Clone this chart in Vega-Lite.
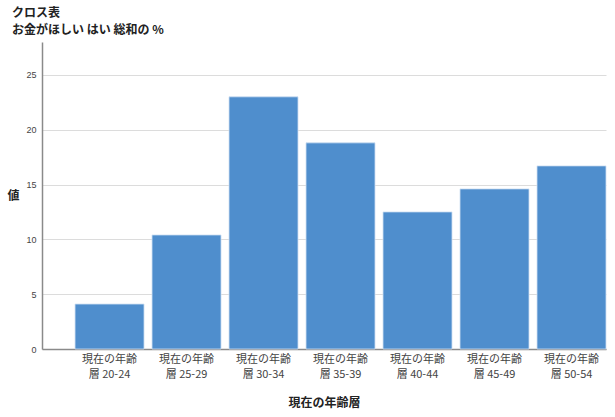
{
  "$schema": "https://vega.github.io/schema/vega-lite/v6.json",
  "autosize": {"type": "none"},
  "padding": {"left": 42, "top": 42, "right": 9, "bottom": 68},
  "width": 564,
  "height": 307,
  "background": "white",
  "title": {
    "text": "クロス表",
    "subtitle": "お金がほしい はい 総和の %",
    "anchor": "start",
    "frame": "group",
    "dx": -30,
    "offset": 5,
    "font": "Noto Sans CJK JP",
    "fontSize": 12,
    "fontWeight": "bold",
    "color": "#222222",
    "subtitleFont": "Noto Sans CJK JP",
    "subtitleFontSize": 12,
    "subtitleFontWeight": "bold",
    "subtitleColor": "#222222",
    "subtitlePadding": 5
  },
  "data": {
    "values": [
      {"age": "現在の年齢層 20-24", "value": 4.1},
      {"age": "現在の年齢層 25-29", "value": 10.4},
      {"age": "現在の年齢層 30-34", "value": 23.0},
      {"age": "現在の年齢層 35-39", "value": 18.8},
      {"age": "現在の年齢層 40-44", "value": 12.5},
      {"age": "現在の年齢層 45-49", "value": 14.6},
      {"age": "現在の年齢層 50-54", "value": 16.7}
    ]
  },
  "mark": {"type": "bar", "color": "#4f8ecd", "stroke": "#cfe0f2", "strokeWidth": 0.8},
  "encoding": {
    "x": {
      "field": "age",
      "type": "nominal",
      "sort": null,
      "scale": {"paddingInner": 0.104, "paddingOuter": 0.2145, "align": 1},
      "axis": {
        "title": "現在の年齢層",
        "titleFont": "Noto Sans CJK JP",
        "titleFontSize": 12,
        "titleFontWeight": "bold",
        "titleColor": "#222222",
        "titlePadding": 18,
        "labelAngle": 0,
        "labelExpr": "[slice(datum.value, 0, 5), slice(datum.value, 5)]",
        "labelFont": "Noto Sans CJK JP",
        "labelFontSize": 11,
        "labelColor": "#444444",
        "labelLineHeight": 15,
        "labelPadding": 4,
        "ticks": false,
        "domainColor": "#8a8a8a",
        "domainWidth": 1.5,
        "grid": false
      }
    },
    "y": {
      "field": "value",
      "type": "quantitative",
      "scale": {"domain": [0, 28], "nice": false},
      "axis": {
        "title": "値",
        "titleAngle": 0,
        "titleX": -35,
        "titleY": 153,
        "titleAlign": "left",
        "titleBaseline": "middle",
        "titleFont": "Noto Sans CJK JP",
        "titleFontSize": 12,
        "titleFontWeight": "bold",
        "titleColor": "#222222",
        "values": [0, 5, 10, 15, 20, 25],
        "labelFont": "Liberation Sans",
        "labelFontSize": 9,
        "labelColor": "#444444",
        "labelPadding": 6,
        "ticks": false,
        "domainColor": "#8a8a8a",
        "domainWidth": 1.5,
        "gridColor": "#dcdcdc",
        "gridWidth": 1
      }
    }
  },
  "config": {"view": {"stroke": null}}
}
